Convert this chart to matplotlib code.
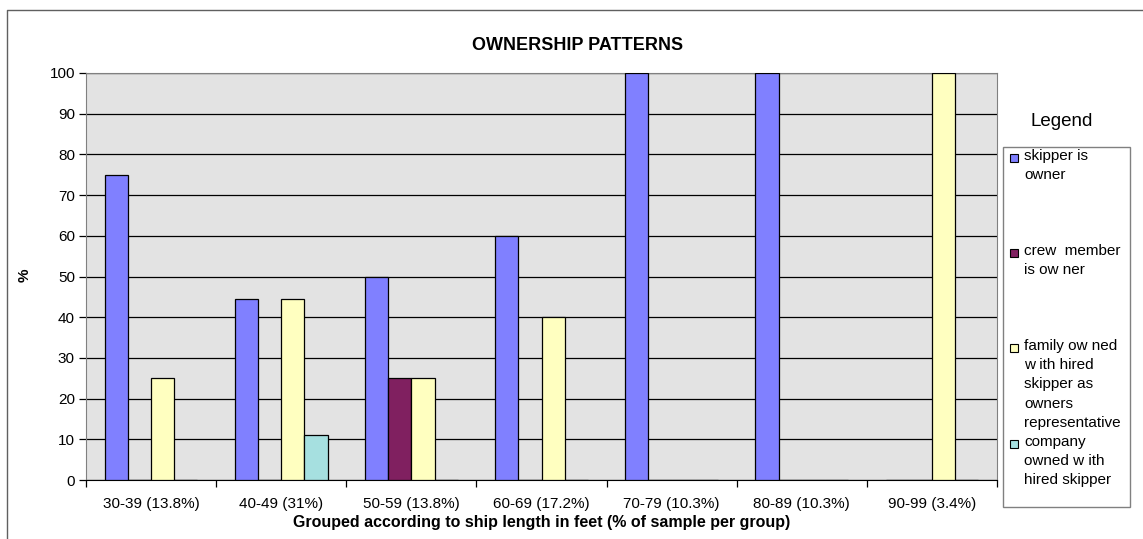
import numpy as np
import matplotlib.pyplot as plt
from matplotlib.patches import Rectangle
from matplotlib.lines import Line2D

plt.rcParams['font.family'] = ['Liberation Sans', 'DejaVu Sans']

# groups by ship length, with share of sample
groups = ["30-39 (13.8%)", "40-49 (31%)", "50-59 (13.8%)", "60-69 (17.2%)",
          "70-79 (10.3%)", "80-89 (10.3%)", "90-99 (3.4%)"]

# percent of boats in each group per ownership type
skipper_owner = [75, 44.4, 50, 60, 100, 100, 0]
crew_owner = [0, 0, 25, 0, 0, 0, 0]
family_owned = [25, 44.4, 25, 40, 0, 0, 100]
company_owned = [0, 11.1, 0, 0, 0, 0, 0]

series = [skipper_owner, crew_owner, family_owned, company_owned]
labels = ["skipper is\nowner",
          "crew  member\nis ow ner",
          "family ow ned\nw ith hired\nskipper as\nowners\nrepresentative",
          "company\nowned w ith\nhired skipper"]
colors = ["#8080FF", "#802060", "#FFFFC0", "#A6E0E0"]

W, H = 1143, 539
fig = plt.figure(figsize=(W / 100, H / 100), dpi=100)
ax = fig.add_axes([86/W, 1 - 480/H, (997-86)/W, (480-73)/H])
ax.set_facecolor("#E3E3E3")

x = np.arange(len(groups))
w = 0.178
for i, vals in enumerate(series):
    ax.bar(x + (i - 1.5) * w, vals, w, color=colors[i], edgecolor="black",
           linewidth=0.9, zorder=3)

ax.set_xlim(-0.5, len(groups) - 0.5)
ax.set_ylim(0, 100)
ax.set_yticks(range(0, 101, 10))
ax.yaxis.grid(True, color="black", linewidth=0.9, zorder=1)
ax.set_axisbelow(True)

# tick marks between groups, labels under group centres
ax.set_xticks(np.arange(-0.5, len(groups), 1.0))
ax.set_xticklabels([])
ax.set_xticks(x, minor=True)
ax.set_xticklabels(groups, minor=True, fontsize=11)
ax.tick_params(axis="x", which="minor", length=0, pad=12)
ax.tick_params(axis="x", which="major", length=5, width=0.9, color="black")
ax.tick_params(axis="y", length=5, width=0.9, labelsize=11, pad=3)

for side in ["top", "right", "left"]:
    ax.spines[side].set_color("#808080")
ax.spines["bottom"].set_color("black")

ax.set_ylabel("%", fontsize=11, fontweight="bold")
ax.yaxis.set_label_coords((32 - 86) / 911, 0.504)
ax.set_xlabel("Grouped according to ship length in feet (% of sample per group)",
              fontsize=11.5, fontweight="bold")
ax.xaxis.set_label_coords(0.5, -(522 - 480) / 407)
ax.xaxis.label.set_va("center")

fig.text(578/W, 1 - 45/H, "OWNERSHIP PATTERNS", fontsize=13,
         fontweight="bold", ha="center", va="center")

# outer chart border (left and top)
fig.add_artist(Line2D([7/W, 7/W, 1], [0, 1 - 10/H, 1 - 10/H],
                      transform=fig.transFigure, color="#606060", linewidth=1))

# legend drawn by hand
fig.text(1062/W, 1 - 122/H, "Legend", fontsize=13.5, ha="center", va="center")
fig.add_artist(Rectangle((1003/W, 1 - 507/H), 127/W, 360/H,
                         transform=fig.transFigure, facecolor="white",
                         edgecolor="#808080", linewidth=1))
entry_y = [158, 253, 348, 444]
for lab, col, yy in zip(labels, colors, entry_y):
    fig.add_artist(Rectangle((1010/W, 1 - (yy + 4)/H), 8/W, 8/H,
                             transform=fig.transFigure, facecolor=col,
                             edgecolor="black", linewidth=0.8))
    fig.text(1024/W, 1 - (yy - 9)/H, lab, fontsize=11, ha="left", va="top",
             linespacing=1.47)

fig.savefig("out.png", dpi=100)
